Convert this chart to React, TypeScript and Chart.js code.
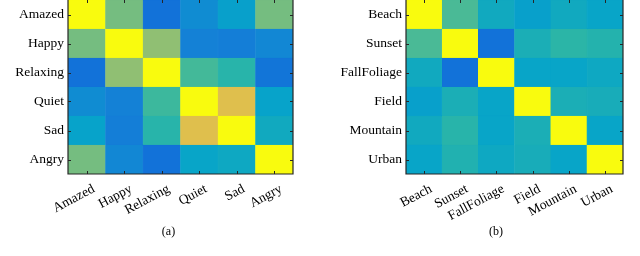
import React, { useEffect, useRef } from "react";
import { Chart, registerables } from "chart.js";

Chart.register(...registerables);

// ---------- data ----------
const emotionLabels = ["Amazed", "Happy", "Relaxing", "Quiet", "Sad", "Angry"];
const emotionMatrix = [
  [1.0, 0.6, 0.2, 0.29, 0.36, 0.6],
  [0.6, 1.0, 0.64, 0.25, 0.24, 0.27],
  [0.2, 0.64, 1.0, 0.53, 0.48, 0.21],
  [0.29, 0.25, 0.52, 1.0, 0.79, 0.37],
  [0.37, 0.24, 0.48, 0.79, 1.0, 0.41],
  [0.6, 0.27, 0.2, 0.38, 0.4, 1.0],
];

const sceneLabels = ["Beach", "Sunset", "FallFoliage", "Field", "Mountain", "Urban"];
const sceneMatrix = [
  [1.0, 0.54, 0.41, 0.36, 0.41, 0.38],
  [0.54, 1.0, 0.2, 0.44, 0.49, 0.47],
  [0.41, 0.2, 1.0, 0.38, 0.38, 0.4],
  [0.36, 0.44, 0.38, 1.0, 0.44, 0.43],
  [0.41, 0.48, 0.38, 0.44, 1.0, 0.38],
  [0.38, 0.46, 0.4, 0.43, 0.38, 1.0],
];

const captions = ["(a)", "(b)"];

// parula-like colormap stops
const parulaStops = [
  "#352a87",
  "#0f5cdd",
  "#1481d6",
  "#06a4ca",
  "#2eb7a4",
  "#87bf77",
  "#d1bb59",
  "#fec832",
  "#f9fb0e",
];

function hexToRgb(h: string) {
  return [1, 3, 5].map((i) => parseInt(h.slice(i, i + 2), 16));
}

function parula(t: number) {
  const v = Math.max(0, Math.min(1, t)) * (parulaStops.length - 1);
  const i = Math.min(Math.floor(v), parulaStops.length - 2);
  const f = v - i;
  const a = hexToRgb(parulaStops[i]);
  const b = hexToRgb(parulaStops[i + 1]);
  const c = a.map((x, k) => Math.round(x + (b[k] - x) * f));
  return `rgb(${c[0]},${c[1]},${c[2]})`;
}

const FONT = "'Liberation Serif', 'Times New Roman', serif";

const boxPlugin = {
  id: "matlabBox",
  afterDatasetsDraw(chart: any) {
    const { ctx, chartArea, scales } = chart;
    const { left, right, top, bottom } = chartArea;
    ctx.save();
    ctx.strokeStyle = "#262626";
    ctx.lineWidth = 1.2;
    ctx.beginPath();
    ctx.moveTo(left, top - 2);
    ctx.lineTo(left, bottom);
    ctx.lineTo(right, bottom);
    ctx.lineTo(right, top - 2);
    ctx.stroke();
    const n = scales.x.ticks.length;
    ctx.lineWidth = 1;
    ctx.beginPath();
    for (let i = 0; i < n; i++) {
      const x = Math.round(scales.x.getPixelForValue(i)) + 0.5;
      ctx.moveTo(x, bottom);
      ctx.lineTo(x, bottom - 3);
      ctx.moveTo(x, top);
      ctx.lineTo(x, top + 3);
    }
    scales.y.ticks.forEach((t: any) => {
      const y = Math.round(scales.y.getPixelForValue(t.value)) + 0.5;
      ctx.moveTo(left, y);
      ctx.lineTo(left + 3, y);
      ctx.moveTo(right, y);
      ctx.lineTo(right - 3, y);
    });
    ctx.stroke();
    ctx.restore();
  },
};

function Heatmap(props: {
  labels: string[];
  matrix: number[][];
  yWidth: number;
  padRight: number;
}) {
  const ref = useRef<HTMLCanvasElement>(null);
  useEffect(() => {
    const { labels, matrix, yWidth, padRight } = props;
    const n = labels.length;
    // bottom row first (stacked upward)
    const datasets = [];
    for (let r = n - 1; r >= 0; r--) {
      const colors = matrix[r].map((v) => parula(v));
      datasets.push({
        label: labels[r],
        data: matrix[r].map(() => 1),
        backgroundColor: colors,
        borderColor: colors,
        borderWidth: 0.6,
        borderSkipped: false,
        barPercentage: 1,
        categoryPercentage: 1,
      });
    }
    const chart = new Chart(ref.current!, {
      type: "bar",
      data: { labels, datasets },
      plugins: [boxPlugin],
      options: {
        animation: false,
        responsive: false,
        devicePixelRatio: 1,
        layout: { padding: { left: 0, right: padRight, top: 0, bottom: 0 } },
        plugins: { legend: { display: false }, tooltip: { enabled: false } },
        scales: {
          x: {
            stacked: true,
            grid: { display: false, drawTicks: false },
            border: { display: false },
            ticks: {
              autoSkip: false,
              maxRotation: 28,
              minRotation: 28,
              padding: 7,
              color: "#000",
              font: { family: FONT, size: 13.5 },
            },
            afterFit: (s: any) => {
              s.height = 82;
              s.paddingLeft = 0;
              s.paddingRight = 0;
              if (!s._shifted) {
                const orig = s.getPixelForTick.bind(s);
                s.getPixelForTick = (i: number) => orig(i) + 7;
                s._shifted = true;
              }
            },
          },
          y: {
            stacked: true,
            min: 0,
            max: n,
            grid: { display: false, drawTicks: false },
            border: { display: false },
            afterBuildTicks: (s: any) => {
              s.ticks = labels.map((_, i) => ({ value: i + 0.5 }));
            },
            ticks: {
              padding: 4,
              color: "#000",
              font: { family: FONT, size: 13.5 },
              callback: (_v: any, i: number) => labels[n - 1 - i],
            },
            afterFit: (s: any) => {
              s.width = yWidth;
              s.paddingTop = 0;
              s.paddingBottom = 0;
            },
          },
        },
      },
    });
    return () => chart.destroy();
  }, []);
  return <canvas ref={ref} width={320} height={256} style={{ width: 320, height: 256, display: "block" }} />;
}

export default function App() {
  const capStyle = (cx: number): React.CSSProperties => ({
    position: "absolute",
    left: cx - 20,
    width: 40,
    top: 224,
    textAlign: "center",
    fontFamily: FONT,
    fontSize: 12,
    lineHeight: "15px",
    color: "#000",
  });
  return (
    <div style={{ position: "absolute", left: 0, top: 0, width: 640, height: 256, background: "#fff", overflow: "hidden" }}>
      <div style={{ position: "absolute", left: 0, top: 0 }}>
        <Heatmap labels={emotionLabels} matrix={emotionMatrix} yWidth={68} padRight={27} />
      </div>
      <div style={{ position: "absolute", left: 320, top: 0 }}>
        <Heatmap labels={sceneLabels} matrix={sceneMatrix} yWidth={86} padRight={17} />
      </div>
      <div style={capStyle(168.5)}>{captions[0]}</div>
      <div style={capStyle(496)}>{captions[1]}</div>
    </div>
  );
}
